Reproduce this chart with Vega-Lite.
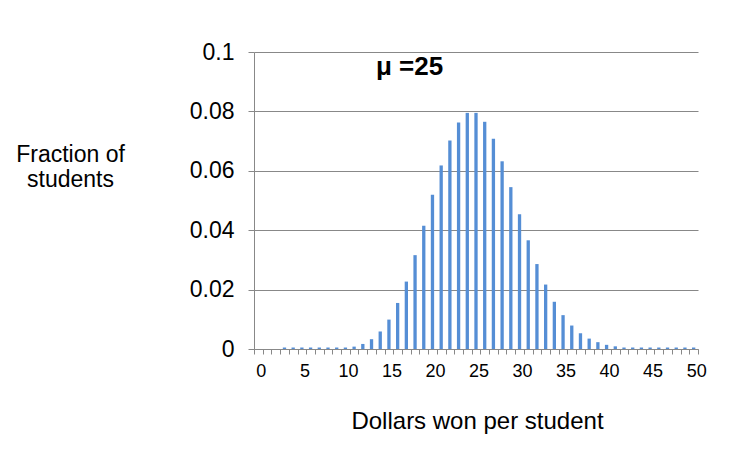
{
  "$schema": "https://vega.github.io/schema/vega-lite/v6.json",
  "width": 444,
  "height": 297,
  "autosize": "none",
  "padding": {"left": 254, "top": 52, "right": 32, "bottom": 118},
  "background": "white",
  "config": {"view": {"stroke": null}, "font": "Liberation Sans"},
  "layer": [
    {
      "data": {"values": [
        {"dollars": 0, "fraction": 0},
        {"dollars": 1, "fraction": 0},
        {"dollars": 2, "fraction": 0},
        {"dollars": 3, "fraction": 0.0005},
        {"dollars": 4, "fraction": 0.0005},
        {"dollars": 5, "fraction": 0.0005},
        {"dollars": 6, "fraction": 0.0005},
        {"dollars": 7, "fraction": 0.0005},
        {"dollars": 8, "fraction": 0.0005},
        {"dollars": 9, "fraction": 0.0005},
        {"dollars": 10, "fraction": 0.0005},
        {"dollars": 11, "fraction": 0.0008},
        {"dollars": 12, "fraction": 0.0017},
        {"dollars": 13, "fraction": 0.0033},
        {"dollars": 14, "fraction": 0.0059},
        {"dollars": 15, "fraction": 0.0099},
        {"dollars": 16, "fraction": 0.0155},
        {"dollars": 17, "fraction": 0.0227},
        {"dollars": 18, "fraction": 0.0316},
        {"dollars": 19, "fraction": 0.0415},
        {"dollars": 20, "fraction": 0.0519},
        {"dollars": 21, "fraction": 0.0618},
        {"dollars": 22, "fraction": 0.0702},
        {"dollars": 23, "fraction": 0.0763},
        {"dollars": 24, "fraction": 0.0795},
        {"dollars": 25, "fraction": 0.0795},
        {"dollars": 26, "fraction": 0.0765},
        {"dollars": 27, "fraction": 0.0708},
        {"dollars": 28, "fraction": 0.0632},
        {"dollars": 29, "fraction": 0.0545},
        {"dollars": 30, "fraction": 0.0454},
        {"dollars": 31, "fraction": 0.0366},
        {"dollars": 32, "fraction": 0.0286},
        {"dollars": 33, "fraction": 0.0217},
        {"dollars": 34, "fraction": 0.0159},
        {"dollars": 35, "fraction": 0.0114},
        {"dollars": 36, "fraction": 0.0079},
        {"dollars": 37, "fraction": 0.0053},
        {"dollars": 38, "fraction": 0.0035},
        {"dollars": 39, "fraction": 0.0023},
        {"dollars": 40, "fraction": 0.0014},
        {"dollars": 41, "fraction": 0.0009},
        {"dollars": 42, "fraction": 0.0005},
        {"dollars": 43, "fraction": 0.0005},
        {"dollars": 44, "fraction": 0.0005},
        {"dollars": 45, "fraction": 0.0005},
        {"dollars": 46, "fraction": 0.0005},
        {"dollars": 47, "fraction": 0.0005},
        {"dollars": 48, "fraction": 0.0005},
        {"dollars": 49, "fraction": 0.0005},
        {"dollars": 50, "fraction": 0.0005}
      ]},
      "mark": {"type": "bar", "color": "#558ED5", "width": {"band": 0.38}},
      "encoding": {
        "x": {
          "field": "dollars",
          "type": "ordinal",
          "scale": {"paddingInner": 0, "paddingOuter": 0},
          "axis": {
            "title": "Dollars won per student",
            "titleFontSize": 24,
            "titleFontWeight": "normal",
            "titleColor": "black",
            "titleBaseline": "alphabetic",
            "titleX": 223,
            "titleY": 79,
            "labelAngle": 0,
            "labelFontSize": 18,
            "labelColor": "black",
            "labelExpr": "datum.value % 5 === 0 ? datum.label : ''",
            "labelOverlap": false,
            "labelPadding": 8,
            "labelOffset": 2.5,
            "tickBand": "extent",
            "tickSize": 5,
            "tickColor": "#888888",
            "domainColor": "#888888",
            "grid": false
          }
        },
        "y": {
          "field": "fraction",
          "type": "quantitative",
          "scale": {"domain": [0, 0.1]},
          "axis": {
            "title": ["Fraction of", "students"],
            "titleAngle": 0,
            "titleAlign": "center",
            "titleBaseline": "alphabetic",
            "titleX": -184,
            "titleY": 109.5,
            "titleFontSize": 23,
            "titleLineHeight": 25,
            "titleFontWeight": "normal",
            "titleColor": "black",
            "values": [0, 0.02, 0.04, 0.06, 0.08, 0.1],
            "format": ".2~f",
            "labelFontSize": 23,
            "labelColor": "black",
            "labelPadding": 14,
            "tickSize": 6,
            "tickColor": "#888888",
            "domainColor": "#888888",
            "grid": true,
            "gridColor": "#888888"
          }
        }
      }
    },
    {
      "data": {"values": [{"dollars": 14, "fraction": 0.0923, "label": "μ =25"}]},
      "mark": {"type": "text", "align": "left", "baseline": "alphabetic", "fontSize": 26, "fontWeight": "bold", "color": "black"},
      "encoding": {
        "x": {"field": "dollars", "type": "ordinal", "bandPosition": 0},
        "y": {"field": "fraction", "type": "quantitative"},
        "text": {"field": "label"}
      }
    }
  ]
}
